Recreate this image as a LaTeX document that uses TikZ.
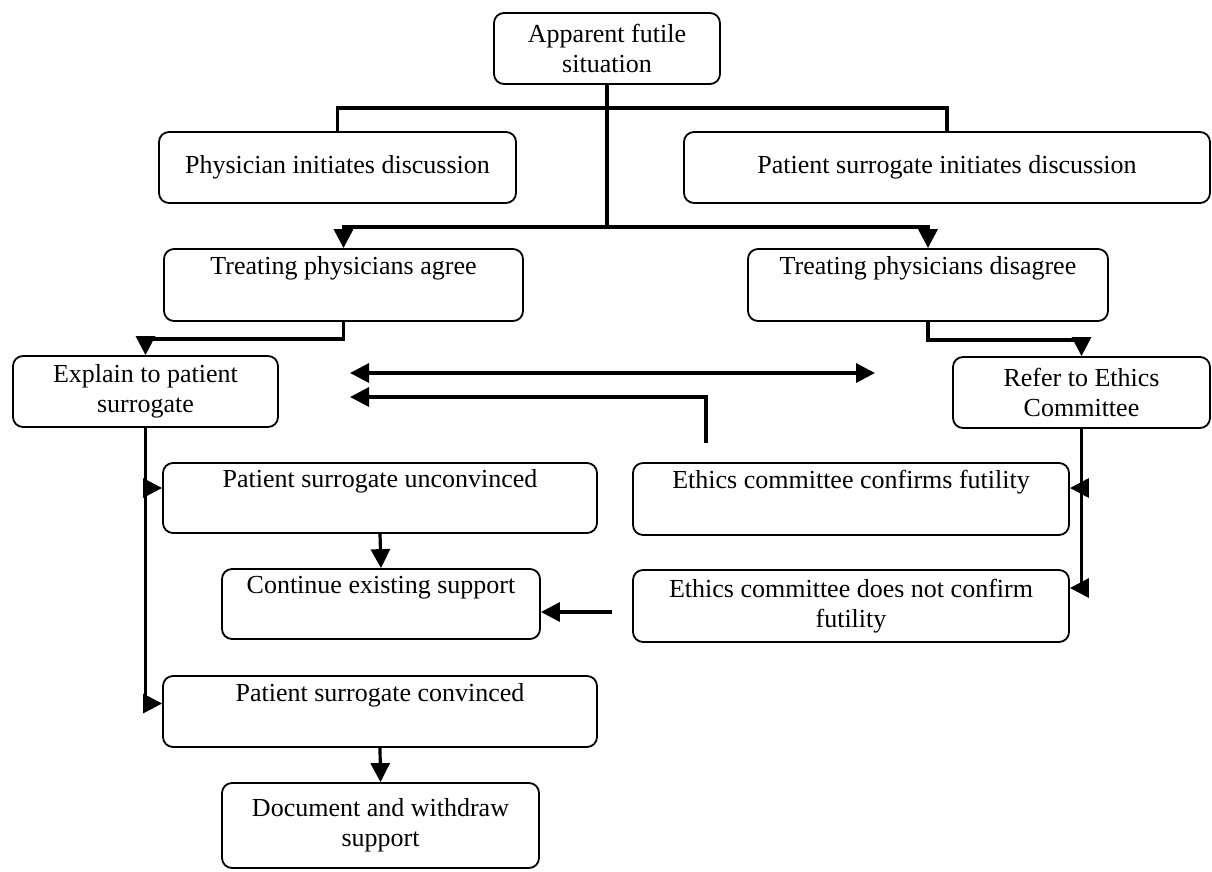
\documentclass[tikz,border=0pt]{standalone}
\usepackage{fontspec}
\setmainfont{Liberation Serif}
\usetikzlibrary{arrows.meta}
\begin{document}
\begin{tikzpicture}[x=1pt,y=-1pt,
  box/.style={draw=black, line width=1.8pt, rounded corners=10pt, fill=white,
    inner sep=0pt, align=center, font=\fontsize{26}{30}\selectfont},
  conn/.style={line width=3.2pt, black},
  arr/.style={conn, -{Triangle[length=19pt,width=19pt]}},
  darr/.style={conn, {Triangle[length=19pt,width=19pt]}-{Triangle[length=19pt,width=19pt]}}
]
\useasboundingbox[fill=white] (0,0) rectangle (1212,871);
\node[box, minimum width=226pt, minimum height=71pt] (top) at (607,48.5) {Apparent futile\\situation};
\node[box, minimum width=357pt, minimum height=71pt] (phys) at (337.5,167.5) {Physician initiates discussion};
\node[box, minimum width=526pt, minimum height=71pt] (surr) at (947,167.5) {Patient surrogate initiates discussion};
\node[box, minimum width=359pt, minimum height=72pt] (agree) at (343.5,285) {Treating physicians agree\\\strut};
\node[box, minimum width=360pt, minimum height=72pt] (disagree) at (928,285) {Treating physicians disagree\\\strut};
\node[box, minimum width=265pt, minimum height=71pt] (explain) at (145.5,391.5) {Explain to patient\\surrogate};
\node[box, minimum width=257pt, minimum height=71pt] (refer) at (1081.5,392.5) {Refer to Ethics\\Committee};
\node[box, minimum width=434pt, minimum height=70pt] (unconv) at (380,498) {Patient surrogate unconvinced\\\strut};
\node[box, minimum width=436pt, minimum height=72pt] (confirm) at (851,499) {Ethics committee confirms futility\\\strut};
\node[box, minimum width=318pt, minimum height=70pt] (cont) at (381,604) {Continue existing support\\\strut};
\node[box, minimum width=436pt, minimum height=72pt] (notconf) at (851,606) {Ethics committee does not confirm\\futility};
\node[box, minimum width=434pt, minimum height=71pt] (conv) at (380,711.5) {Patient surrogate convinced\\\strut};
\node[box, minimum width=317pt, minimum height=85pt] (doc) at (380.5,825.5) {Document and withdraw\\support};

\coordinate (j1) at (607,108);
\coordinate (j2) at (607,227);
\coordinate (dl1) at (350,373);
\coordinate (dr1) at (875,373);
\coordinate (dl2) at (350,397);
\coordinate (dv) at (706,443);
\coordinate (nc) at (612,612);

\draw[conn] (phys.north) |- (j1) -| (surr.north);
\draw[conn] (top.south) -- (j2);
\draw[arr] (j2) -| (agree.north);
\draw[arr] (j2) -| (disagree.north);
\draw[arr] (agree.south) -- ++(0,17) -| (explain.north);
\draw[arr] (disagree.south) -- ++(0,18) -| (refer.north);
\draw[darr] (dl1) -- (dr1);
\draw[arr] (dv) |- (dl2);
\draw[arr] (explain.south) |- ([yshift=10pt]unconv.west);
\draw[arr] (explain.south) |- ([yshift=8pt]conv.west);
\draw[arr] (refer.south) |- ([yshift=11pt]confirm.east);
\draw[arr] (refer.south) |- ([yshift=18pt]notconf.east);
\draw[arr] (unconv.south) -- (cont.north);
\draw[arr] (conv.south) -- (doc.north);
\draw[arr] (nc) -- (cont.east |- nc);
\end{tikzpicture}
\end{document}
